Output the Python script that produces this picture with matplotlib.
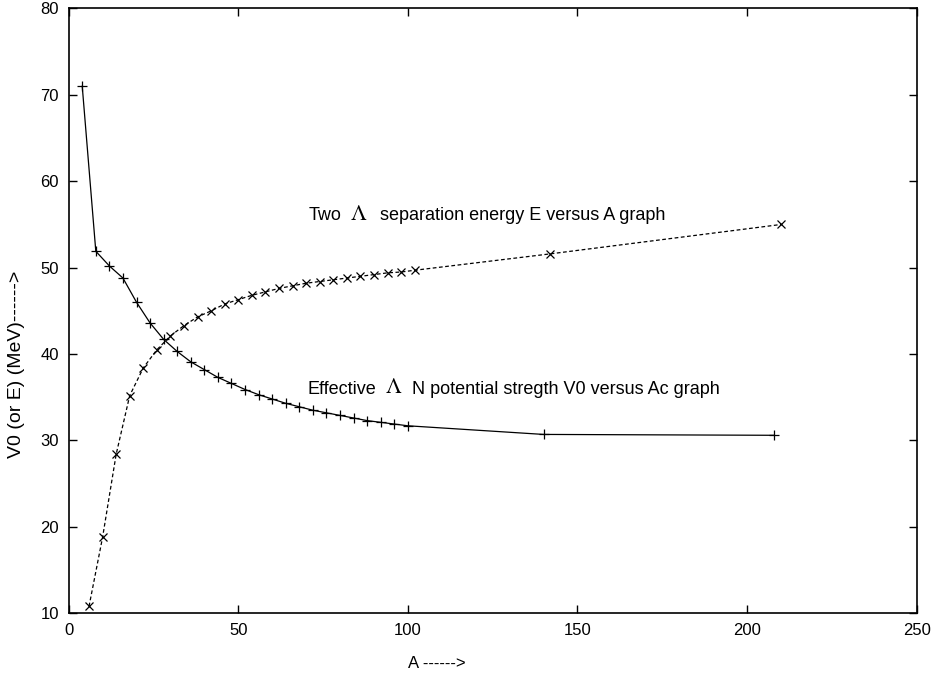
import matplotlib
matplotlib.use("Agg")
import matplotlib.pyplot as plt

plt.rcParams['font.family'] = ['Liberation Sans', 'DejaVu Sans']
plt.rcParams['mathtext.fontset'] = 'stix'

# Effective Lambda-N potential strength V0 versus Ac
v0_a = [4, 8, 12, 16, 20, 24, 28, 32, 36, 40, 44, 48, 52, 56, 60, 64, 68,
        72, 76, 80, 84, 88, 92, 96, 100, 140, 208]
v0 = [71.0, 51.9, 50.2, 48.8, 46.0, 43.6, 41.7, 40.3, 39.1, 38.2, 37.3, 36.6,
      35.9, 35.3, 34.8, 34.3, 33.9, 33.5, 33.2, 32.9, 32.6, 32.3, 32.1, 31.9,
      31.7, 30.7, 30.6]

# Two Lambda separation energy E versus A
e_a = [6, 10, 14, 18, 22, 26, 30, 34, 38, 42, 46, 50, 54, 58, 62, 66, 70,
       74, 78, 82, 86, 90, 94, 98, 102, 142, 210]
e = [10.8, 18.8, 28.4, 35.2, 38.4, 40.5, 42.1, 43.3, 44.3, 45.0, 45.8, 46.3,
     46.8, 47.2, 47.6, 47.9, 48.2, 48.4, 48.6, 48.8, 49.0, 49.2, 49.4, 49.5,
     49.7, 51.6, 55.0]

xticks = [0, 50, 100, 150, 200, 250]
yticks = [10, 20, 30, 40, 50, 60, 70, 80]

fig = plt.figure(figsize=(9.33, 6.84), dpi=100)
ax = fig.add_axes([0.0736, 0.1034, 0.9089, 0.8842])

ax.plot(v0_a, v0, color='black', linestyle='-', linewidth=0.9,
        marker='+', markersize=7, markeredgewidth=0.9)
ax.plot(e_a, e, color='black', linestyle=(0, (3, 2)), linewidth=0.9,
        marker='x', markersize=6, markeredgewidth=0.9)

# labels on the curves, big serif lambda in the middle
ax.text(70.6, 56.0, 'Two', fontsize=13, va='center', ha='left')
ax.text(83.0, 56.2, r'$\Lambda$', fontsize=16, va='center', ha='left')
ax.text(91.8, 56.0, 'separation energy E versus A graph', fontsize=13,
        va='center', ha='left')

ax.text(70.3, 35.9, 'Effective', fontsize=13, va='center', ha='left')
ax.text(93.2, 36.1, r'$\Lambda$', fontsize=16, va='center', ha='left')
ax.text(101.1, 35.9, 'N potential stregth V0 versus Ac graph', fontsize=13,
        va='center', ha='left')

ax.set_xlim(0, 250)
ax.set_ylim(10, 80)
ax.set_xticks(xticks)
ax.set_yticks(yticks)
ax.tick_params(direction='in', length=6, width=1, top=True, right=True,
               labelsize=12, pad=7)
for s in ax.spines.values():
    s.set_linewidth(1.2)

fig.text(408 / 933, 1 - 663 / 684, 'A ------>', fontsize=12,
         ha='left', va='center')
fig.text(17 / 933, 1 - 364 / 684, 'V0 (or E) (MeV)------>', fontsize=14,
         rotation=90, ha='center', va='center')

fig.savefig('out.png', dpi=100)
